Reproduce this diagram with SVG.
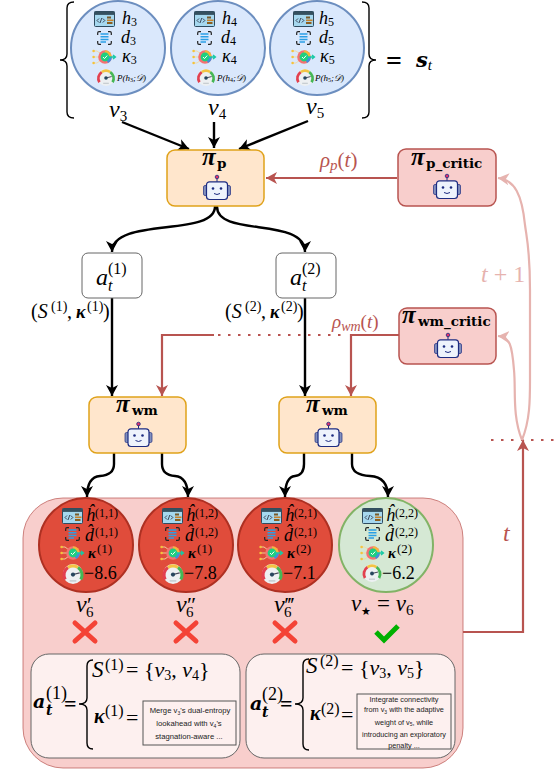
<svg xmlns="http://www.w3.org/2000/svg" width="560" height="769" viewBox="0 0 560 769">
<style>
text{font-family:"Liberation Serif","DejaVu Serif",serif;fill:#000}
.m{font-style:italic}
.k{font-style:italic;font-weight:bold}
.bm{font-family:"DejaVu Serif",serif;font-style:italic;font-weight:bold}
.n{font-family:"DejaVu Serif",serif;font-weight:bold;font-size:13.5px}
.pi{font-family:"Liberation Serif",serif;font-weight:bold;font-style:italic;font-size:25px}
.s{font-family:"Liberation Sans",Arial,sans-serif;font-size:7.7px;fill:#222;text-anchor:middle}
.s2{font-size:7.3px}
.up{font-style:normal;font-weight:normal}
.rd,.rd tspan{fill:#b85450}
.lt,.lt tspan{fill:#e6b3af}
.blue{fill:#dae8fc;stroke:#6c8ebf;stroke-width:2}
.bad{fill:#e04c3b;stroke:#ae3022;stroke-width:2}
.good{fill:#d5e8d4;stroke:#82b366;stroke-width:2}
.act{fill:#ffe6cc;stroke:#e0a21a;stroke-width:1.5}
.crit{fill:#f8cecc;stroke:#b85450;stroke-width:1.5}
.k1{fill:none;stroke:#000;stroke-width:2.4}
.r1{fill:none;stroke:#b85450;stroke-width:2.2}
.l1{fill:none;stroke:#e6b3af;stroke-width:2.2}
.dot{fill:none;stroke:#b85450;stroke-width:2;stroke-dasharray:2.5 7.5}
.br{fill:none;stroke:#000;stroke-width:1.4}
</style>
<defs>
<marker id="ak" markerUnits="userSpaceOnUse" markerWidth="14" markerHeight="14" refX="11" refY="7" orient="auto"><path d="M0 1 L11 7 L0 13 L3 7 Z" fill="#000"/></marker>
<marker id="ar" markerUnits="userSpaceOnUse" markerWidth="14" markerHeight="14" refX="11" refY="7" orient="auto"><path d="M0 1 L11 7 L0 13 L3 7 Z" fill="#b85450"/></marker>
<marker id="al" markerUnits="userSpaceOnUse" markerWidth="14" markerHeight="14" refX="11" refY="7" orient="auto"><path d="M0 1 L11 7 L0 13 L3 7 Z" fill="#e6b3af"/></marker>
<symbol id="robot" viewBox="0 0 28 25" overflow="visible">
<rect x="0.5" y="10.5" width="5" height="10" rx="1.5" fill="#8290bd" stroke="#1c2b80" stroke-width=".7"/>
<rect x="22.5" y="10.5" width="5" height="10" rx="1.5" fill="#8290bd" stroke="#1c2b80" stroke-width=".7"/>
<path d="M14 2V7" stroke="#1c2b80" stroke-width="1"/>
<circle cx="14" cy="2" r="1.8" fill="#e3316b" stroke="#1c2b80" stroke-width=".8"/>
<rect x="3.500" y="6.800" width="21" height="17.700" rx="3" fill="#eef3fc" stroke="#1c2b80" stroke-width="1.200"/>
<circle cx="10" cy="13.500" r="1.300" fill="#1c2b80"/><circle cx="18" cy="13.500" r="1.300" fill="#1c2b80"/>
<path d="M11 18.500q3 2 6 0" fill="none" stroke="#1c2b80" stroke-width="1"/>
</symbol>
<symbol id="code" viewBox="0 0 21 16" overflow="visible">
<rect x=".5" y=".5" width="20" height="15" rx="1" fill="#a6d8ef" stroke="#2f4a5e"/>
<rect x=".5" y=".5" width="20" height="3.4" fill="#35505f"/>
<path d="M5 7.500L3 9.500L5 11.500M8.800 7.500L10.800 9.500L8.800 11.500M7.800 7L6 12" fill="none" stroke="#223" stroke-width=".8"/>
<rect x="13" y="5.500" width="4" height="2" fill="#7a5a2a"/><rect x="13" y="8.500" width="6.500" height="1.600" fill="#c9822a"/><rect x="13" y="11" width="5.500" height="2" fill="#8d5f20"/>
</symbol>
<symbol id="doc" viewBox="0 0 15 14" overflow="visible">
<path d="M.7 4V2Q.7 .7 2 .7H4M11 .7H13Q14.300 .7 14.300 2V4M14.300 10V12Q14.300 13.300 13 13.300H11M4 13.300H2Q.7 13.300 .7 12V10" fill="none" stroke="#222" stroke-width="1.200"/>
<path d="M3.500 3H11.500M3.500 5.700H11.500M3.500 8.400H11.500M3.500 11H9" fill="none" stroke="#2a9fe6" stroke-width="1.500"/>
</symbol>
<symbol id="kap" viewBox="0 0 24 16" overflow="visible">
<path d="M1.500 2H5L9 5M1.500 8H8M1.500 14H5L9 11" fill="none" stroke="#f0d9a0" stroke-width=".9"/>
<circle cx="1.600" cy="2" r="1.300" fill="#f5c33b"/><circle cx="1.600" cy="8" r="1.300" fill="#f5c33b"/><circle cx="1.600" cy="14" r="1.300" fill="#f5c33b"/>
<circle cx="13" cy="8" r="6.800" fill="#f47272"/>
<path d="M13 1.200A6.800 6.800 0 0 1 19.800 8H13Z" fill="#f5b53b"/>
<path d="M19.800 8A6.800 6.800 0 0 1 16 14L13 8Z" fill="#3f8ede"/>
<circle cx="13" cy="8" r="4.400" fill="#1fcf7e"/>
<path d="M11 8L12.500 9.600L15.200 6.600" fill="none" stroke="#fff" stroke-width="1"/>
<path d="M16 8H23M21 6L23.500 8L21 10" fill="none" stroke="#17c9a4" stroke-width="1.300"/>
</symbol>
<symbol id="gau" viewBox="0 0 18 18" overflow="visible">
<circle cx="9" cy="9" r="9" fill="#edf0f2"/>
<path d="M2 14A8 8 0 0 1 4.500 3.200" fill="none" stroke="#e2404f" stroke-width="2.800"/>
<path d="M4.500 3.200A8 8 0 0 1 13.500 3.200" fill="none" stroke="#f3c443" stroke-width="2.800"/>
<path d="M13.500 3.200A8 8 0 0 1 16 14" fill="none" stroke="#45b755" stroke-width="2.800"/>
<path d="M9 9.500L15 8" stroke="#445" stroke-width="1"/>
<circle cx="9" cy="9.500" r="1.900" fill="#27465e"/>
<rect x="6" y="14.500" width="6" height="1.400" fill="#c8ced2"/>
</symbol>
<symbol id="cross" viewBox="0 0 26 24" overflow="visible"><path d="M3 3L23 21M23 3L3 21" fill="none" stroke="#f44336" stroke-width="5" stroke-linecap="round"/></symbol>
</defs>

<g id="state-brackets">
<path class="br" d="M74 2Q67 2 67 8V54Q67 60 60 60Q67 60 67 66V112Q67 118 74 118"/>
<path class="br" d="M362 2Q369 2 369 8V54Q369 60 376 60Q369 60 369 66V112Q369 118 362 118"/>
<text x="386" y="70" font-size="28" font-weight="bold">=</text>
<text class="bm" x="416" y="67" font-size="21">s<tspan dy="3" font-size="15" font-family="Liberation Serif" font-weight="normal">t</tspan></text>
</g>

<g id="node-v3" transform="translate(118 48)">
<circle class="blue" r="47"/>
<use href="#code" x="-24" y="-37" width="21" height="16"/><use href="#doc" x="-21" y="-17" width="15" height="14"/><use href="#kap" x="-26" y="1" width="24" height="16"/><use href="#gau" x="-21" y="21" width="18" height="17"/>
<text class="m" x="4" y="-24" font-size="18">h<tspan dy="2" font-size="12" class="up">3</tspan></text>
<text class="m" x="3" y="-5" font-size="18">d<tspan dy="2" font-size="12" class="up">3</tspan></text>
<text class="m" x="4" y="14" font-size="18">κ<tspan dy="2" font-size="12" class="up">3</tspan></text>
<text class="m" x="-1" y="33" font-size="9">P(h<tspan dy="1" font-size="6" class="up">3</tspan><tspan dy="-1">;𝒟)</tspan></text>
<text class="m" x="-9" y="69" font-size="24">v<tspan dy="4" font-size="15" class="up">3</tspan></text>
</g>
<g id="node-v4" transform="translate(218 48)">
<circle class="blue" r="47"/>
<use href="#code" x="-24" y="-37" width="21" height="16"/><use href="#doc" x="-21" y="-17" width="15" height="14"/><use href="#kap" x="-26" y="1" width="24" height="16"/><use href="#gau" x="-21" y="21" width="18" height="17"/>
<text class="m" x="4" y="-24" font-size="18">h<tspan dy="2" font-size="12" class="up">4</tspan></text>
<text class="m" x="3" y="-5" font-size="18">d<tspan dy="2" font-size="12" class="up">4</tspan></text>
<text class="m" x="4" y="14" font-size="18">κ<tspan dy="2" font-size="12" class="up">4</tspan></text>
<text class="m" x="-1" y="33" font-size="9">P(h<tspan dy="1" font-size="6" class="up">4</tspan><tspan dy="-1">;𝒟)</tspan></text>
<text class="m" x="-10" y="67" font-size="24">v<tspan dy="4" font-size="15" class="up">4</tspan></text>
</g>
<g id="node-v5" transform="translate(317 48)">
<circle class="blue" r="47"/>
<use href="#code" x="-24" y="-37" width="21" height="16"/><use href="#doc" x="-21" y="-17" width="15" height="14"/><use href="#kap" x="-26" y="1" width="24" height="16"/><use href="#gau" x="-21" y="21" width="18" height="17"/>
<text class="m" x="2" y="-24" font-size="18">h<tspan dy="2" font-size="12" class="up">5</tspan></text>
<text class="m" x="2" y="-5" font-size="18">d<tspan dy="2" font-size="12" class="up">5</tspan></text>
<text class="m" x="3" y="14" font-size="18">κ<tspan dy="2" font-size="12" class="up">5</tspan></text>
<text class="m" x="-2" y="33" font-size="9">P(h<tspan dy="1" font-size="6" class="up">5</tspan><tspan dy="-1">;𝒟)</tspan></text>
<text class="m" x="-11" y="66" font-size="24">v<tspan dy="4" font-size="15" class="up">5</tspan></text>
</g>

<g id="panel-back"><rect x="23" y="498" width="440" height="270" rx="40" fill="#f8cecc" stroke="#b85450" stroke-opacity=".7" stroke-width="1"/></g>

<g id="connectors">
<path class="k1" marker-end="url(#ak)" d="M122 122L189 149"/>
<path class="k1" marker-end="url(#ak)" d="M214 122V148"/>
<path class="k1" marker-end="url(#ak)" d="M308 121L239 149"/>
<path class="k1" marker-end="url(#ak)" d="M215 206C216 238 112 216 112 252"/>
<path class="k1" marker-end="url(#ak)" d="M217 206C216 238 305 216 305 252"/>
<path class="k1" marker-end="url(#ak)" d="M112 298V396"/>
<path class="k1" marker-end="url(#ak)" d="M305 298V396"/>
<path class="k1" marker-end="url(#ak)" d="M114 452V464Q114 475 100 476Q87 477 87 497"/>
<path class="k1" marker-end="url(#ak)" d="M162 452V464Q162 475 175 476Q188 477 188 497"/>
<path class="k1" marker-end="url(#ak)" d="M304 452V464Q304 475 295 476Q285 477 285 497"/>
<path class="k1" marker-end="url(#ak)" d="M352 452V464Q352 475 370 476Q388 477 388 497"/>
<path class="r1" marker-end="url(#ar)" d="M397 178H266"/>
<path class="r1" marker-end="url(#ar)" d="M399 335H351V396"/>
<path class="r1" marker-end="url(#ar)" d="M214 335H162V396"/>
<path class="dot" d="M218 335H347"/>
<path class="dot" d="M491 440H557"/>
<path class="r1" marker-end="url(#ar)" d="M463 632H523V440"/>
<path class="l1" marker-end="url(#al)" d="M522 440C512 415 516 390 514 370C512 345 510 337 498 336"/>
<path class="l1" marker-end="url(#al)" d="M522 440C530 420 530 400 530 380V290C530 250 527 240 525 225C522 195 515 180 498 178"/>
</g>

<g id="node-pi-p"><rect class="act" x="167" y="150" width="97" height="56" rx="8"/><use href="#robot" x="203" y="175" width="28" height="25"/>
<text class="pi" x="202" y="165">π</text><text class="n" x="217" y="168">p</text></g>
<g id="node-pi-p-critic"><rect class="crit" x="398" y="149" width="98" height="57" rx="8"/><use href="#robot" x="433" y="174" width="28" height="25"/>
<text class="pi" x="411" y="165">π</text><text class="n" x="426" y="168">p_critic</text></g>
<g id="node-pi-wm-critic"><rect class="crit" x="399" y="308" width="97" height="56" rx="8"/><use href="#robot" x="434" y="333" width="28" height="25"/>
<text class="pi" x="402" y="323">π</text><text class="n" x="418" y="326">wm_critic</text></g>
<g id="node-pi-wm-1"><rect class="act" x="89" y="397" width="97" height="56" rx="8"/><use href="#robot" x="124" y="422" width="29" height="25"/>
<text class="pi" x="116" y="412">π</text><text class="n" x="132" y="415">wm</text></g>
<g id="node-pi-wm-2"><rect class="act" x="279" y="397" width="97" height="56" rx="8"/><use href="#robot" x="314" y="422" width="29" height="25"/>
<text class="pi" x="306" y="412">π</text><text class="n" x="322" y="415">wm</text></g>

<g id="node-a1"><rect x="82" y="253" width="60" height="45" rx="6" fill="#fff" stroke="#666" stroke-width="1"/>
<text class="m" x="96" y="285" font-size="24">a<tspan class="up" font-size="16" dy="-11">(1)</tspan><tspan font-size="16" x="108" dy="17">t</tspan></text></g>
<g id="node-a2"><rect x="276" y="253" width="60" height="45" rx="6" fill="#fff" stroke="#666" stroke-width="1"/>
<text class="m" x="290" y="285" font-size="24">a<tspan class="up" font-size="16" dy="-11">(2)</tspan><tspan font-size="16" x="302" dy="17">t</tspan></text></g>

<g id="labels">
<text font-size="20" y="318" x="31">(<tspan class="m">S</tspan><tspan font-size="14" x="51" dy="-7">(1)</tspan><tspan x="67" dy="7">,</tspan><tspan class="k" font-size="18" x="76">κ</tspan><tspan font-size="14" x="87" dy="-7">(1)</tspan><tspan x="103" dy="7">)</tspan></text>
<text font-size="20" y="318" x="225">(<tspan class="m">S</tspan><tspan font-size="14" x="245" dy="-7">(2)</tspan><tspan x="261" dy="7">,</tspan><tspan class="k" font-size="18" x="270">κ</tspan><tspan font-size="14" x="281" dy="-7">(2)</tspan><tspan x="297" dy="7">)</tspan></text>
<text class="m rd" x="320" y="167" font-size="21">ρ<tspan dy="3" font-size="15">p</tspan><tspan dy="-3" class="up">(</tspan><tspan>t</tspan><tspan class="up">)</tspan></text>
<text class="m rd" x="332" y="328" font-size="19">ρ<tspan dy="3" font-size="14">wm</tspan><tspan dy="-3" class="up">(</tspan><tspan>t</tspan><tspan class="up">)</tspan></text>
<text class="m lt" x="481" y="282" font-size="24">t<tspan class="up"> + 1</tspan></text>
<text class="m rd" x="503" y="541" font-size="24">t</text>
</g>

<g id="node-v6a" transform="translate(86 545)">
<circle class="bad" r="47"/>
<use href="#code" x="-24" y="-37" width="21" height="16"/><use href="#doc" x="-21" y="-18" width="15" height="14"/><use href="#kap" x="-26" y="0" width="24" height="16"/><use href="#gau" x="-23" y="19" width="20" height="20"/>
<text class="m" x="0" y="-24" font-size="18">ĥ<tspan class="up" font-size="12" x="9" dy="-4">(1,1)</tspan></text>
<text class="m" x="-1" y="-4" font-size="18">d̂<tspan class="up" font-size="12" x="9" dy="-5">(1,1)</tspan></text>
<text class="k" x="2" y="13" font-size="15">κ<tspan class="up" font-size="13" x="11" dy="-5">(1)</tspan></text>
<text x="-2" y="34" font-size="18">−8.6</text>
<text class="m" x="-10" y="67" font-size="24">v<tspan class="up" font-size="22" x="1">′</tspan><tspan class="up" font-size="15" x="0" dy="5">6</tspan></text>
</g>
<g id="node-v6b" transform="translate(186 545)">
<circle class="bad" r="47"/>
<use href="#code" x="-24" y="-37" width="21" height="16"/><use href="#doc" x="-21" y="-18" width="15" height="14"/><use href="#kap" x="-26" y="0" width="24" height="16"/><use href="#gau" x="-23" y="19" width="20" height="20"/>
<text class="m" x="0" y="-24" font-size="18">ĥ<tspan class="up" font-size="12" x="9" dy="-4">(1,2)</tspan></text>
<text class="m" x="-1" y="-4" font-size="18">d̂<tspan class="up" font-size="12" x="9" dy="-5">(1,2)</tspan></text>
<text class="k" x="2" y="13" font-size="15">κ<tspan class="up" font-size="13" x="11" dy="-5">(1)</tspan></text>
<text x="-2" y="34" font-size="18">−7.8</text>
<text class="m" x="-10" y="67" font-size="24">v<tspan class="up" font-size="22" x="1">″</tspan><tspan class="up" font-size="15" x="0" dy="5">6</tspan></text>
</g>
<g id="node-v6c" transform="translate(285 545)">
<circle class="bad" r="47"/>
<use href="#code" x="-24" y="-37" width="21" height="16"/><use href="#doc" x="-21" y="-18" width="15" height="14"/><use href="#kap" x="-26" y="0" width="24" height="16"/><use href="#gau" x="-23" y="19" width="20" height="20"/>
<text class="m" x="0" y="-24" font-size="18">ĥ<tspan class="up" font-size="12" x="9" dy="-4">(2,1)</tspan></text>
<text class="m" x="-1" y="-4" font-size="18">d̂<tspan class="up" font-size="12" x="9" dy="-5">(2,1)</tspan></text>
<text class="k" x="2" y="13" font-size="15">κ<tspan class="up" font-size="13" x="11" dy="-5">(2)</tspan></text>
<text x="-2" y="34" font-size="18">−7.1</text>
<text class="m" x="-11" y="67" font-size="24">v<tspan class="up" font-size="22" x="0">‴</tspan><tspan class="up" font-size="15" x="-1" dy="5">6</tspan></text>
</g>
<g id="node-v6-best" transform="translate(386 545)">
<circle class="good" r="47"/>
<use href="#code" x="-24" y="-37" width="21" height="16"/><use href="#doc" x="-21" y="-18" width="15" height="14"/><use href="#kap" x="-26" y="0" width="24" height="16"/><use href="#gau" x="-23" y="19" width="18" height="18"/>
<text class="m" x="0" y="-24" font-size="18">ĥ<tspan class="up" font-size="12" x="9" dy="-4">(2,2)</tspan></text>
<text class="m" x="-1" y="-4" font-size="18">d̂<tspan class="up" font-size="12" x="9" dy="-5">(2,2)</tspan></text>
<text class="k" x="2" y="13" font-size="15">κ<tspan class="up" font-size="13" x="11" dy="-5">(2)</tspan></text>
<text x="-4" y="34" font-size="18">−6.2</text>
<text class="m" x="-35" y="66" font-size="23">v<tspan dy="4" font-size="11" class="up">★</tspan><tspan dy="-4" class="up"> = </tspan>v<tspan dy="4" font-size="15" class="up">6</tspan></text>
</g>

<g id="marks">
<use href="#cross" x="72" y="620" width="26" height="24"/>
<use href="#cross" x="173" y="620" width="26" height="24"/>
<use href="#cross" x="272" y="620" width="26" height="24"/>
<path d="M376 632L384 640L398 626" fill="none" stroke="#00b000" stroke-width="5"/>
</g>

<g id="node-action-1">
<rect x="31" y="654" width="209" height="104" rx="18" fill="#fdf0ef" stroke="#666" stroke-width="1"/>
<text class="bm" x="33" y="708" font-size="19">a<tspan class="up" font-family="Liberation Serif" font-size="18" x="46" dy="-9">(1)</tspan><tspan font-size="14" x="46" dy="16">t</tspan></text>
<text x="64" y="711" font-size="22" font-weight="bold">=</text>
<path class="br" d="M93 660Q87 660 87 666V698Q87 704 79 704Q87 704 87 710V743Q87 749 93 749"/>
<text class="m" x="92" y="677" font-size="23">S<tspan class="up" font-size="16" x="105" dy="-7">(1)</tspan></text>
<text x="126" y="677" font-size="22">= {<tspan class="m">v</tspan><tspan dy="3" font-size="14">3</tspan><tspan dy="-3">, </tspan><tspan class="m">v</tspan><tspan dy="3" font-size="14">4</tspan><tspan dy="-3">}</tspan></text>
<text class="k" x="94" y="723" font-size="20">κ<tspan class="up" font-size="16" x="105" dy="-7">(1)</tspan></text><text x="126" y="725" font-size="22">=</text>
<rect x="143" y="701" width="93" height="44" fill="#fdf0ef" stroke="#555" stroke-width="1"/>
<text class="s" x="190" y="713">Merge v<tspan dy="1.500" font-size="5">3</tspan><tspan dy="-1.500">'s dual-entropy</tspan></text>
<text class="s" x="189" y="726">lookahead with v<tspan dy="1.500" font-size="5">4</tspan><tspan dy="-1.500">'s</tspan></text>
<text class="s" x="189" y="739">stagnation-aware ...</text>
</g>
<g id="node-action-2">
<rect x="246" y="654" width="209" height="104" rx="18" fill="#fdf0ef" stroke="#666" stroke-width="1"/>
<text class="bm" x="250" y="710" font-size="19">a<tspan class="up" font-family="Liberation Serif" font-size="18" x="262" dy="-10">(2)</tspan><tspan font-size="14" x="262" dy="17">t</tspan></text>
<text x="280" y="711" font-size="22" font-weight="bold">=</text>
<path class="br" d="M309 659Q303 659 303 665V698Q303 704 295 704Q303 704 303 710V744Q303 750 309 750"/>
<text class="m" x="306" y="673" font-size="23">S<tspan class="up" font-size="16" x="320" dy="-7">(2)</tspan></text>
<text x="341" y="675" font-size="22">= {<tspan class="m">v</tspan><tspan dy="3" font-size="14">3</tspan><tspan dy="-3">, </tspan><tspan class="m">v</tspan><tspan dy="3" font-size="14">5</tspan><tspan dy="-3">}</tspan></text>
<text class="k" x="310" y="720" font-size="20">κ<tspan class="up" font-size="16" x="321" dy="-6">(2)</tspan></text><text x="341" y="722" font-size="22">=</text>
<rect x="357" y="694" width="94" height="55" fill="#fdf0ef" stroke="#555" stroke-width="1"/>
<text class="s s2" x="404" y="701.500">Integrate connectivity</text>
<text class="s s2" x="404" y="712">from v<tspan dy="1.500" font-size="5">3</tspan><tspan dy="-1.500"> with the adaptive</tspan></text>
<text class="s s2" x="404" y="724.500">weight of v<tspan dy="1.500" font-size="5">5</tspan><tspan dy="-1.500">, while</tspan></text>
<text class="s s2" x="404" y="737">introducing an exploratory</text>
<text class="s s2" x="404" y="748">penalty ...</text>
</g>
</svg>
